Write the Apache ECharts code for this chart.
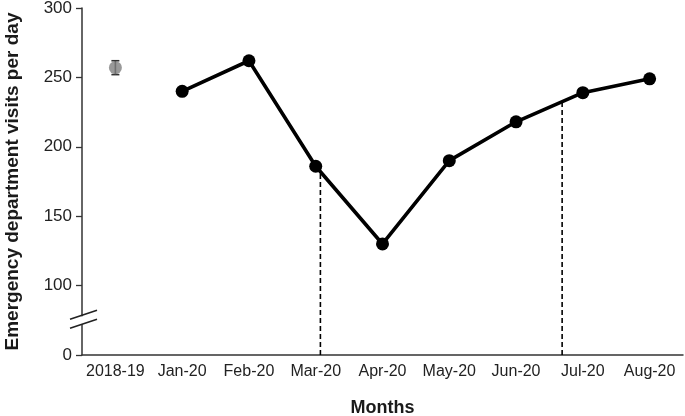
<!DOCTYPE html>
<html>
<head>
<meta charset="utf-8">
<script src="https://cdn.jsdelivr.net/npm/echarts@6/dist/echarts.min.js"></script>
<style>
  html, body { margin: 0; padding: 0; background: #fff; }
  #dom { width: 685px; height: 416px; }
</style>
</head>
<body>
<div id="dom"></div>
<script>
const months = ['2018-19', 'Jan-20', 'Feb-20', 'Mar-20', 'Apr-20', 'May-20', 'Jun-20', 'Jul-20', 'Aug-20']
// monthly averages for 2020 (first slot is the 2018-19 baseline, drawn separately)
const visits = ['-', 240, 262, 186, 130, 190, 218, 239, 249]
const baseline = 257
const baselineErr = [252, 262]
// y axis is broken: bottom tick shows 0 but sits where 50 would be
const yTickValues = [50, 100, 150, 200, 250, 300]
const yTickLabels = ['0', '100', '150', '200', '250', '300']
// dashed markers (x as fractional month index, y where they meet the line)
const dashX = [3.07, 6.69]
const dashTop = [182, 232]

const font = 'Liberation Sans, Arial, sans-serif'
const dom = echarts.init(document.getElementById('dom'))

let option = {
  backgroundColor: '#FFFFFF',
  animation: false,
  grid: { left: 82, right: 2, top: 8, bottom: 61, outerBoundsMode: 'none' },
  xAxis: [
    {
      type: 'category',
      data: months,
      name: 'Months',
      nameLocation: 'middle',
      nameGap: 44,
      nameTextStyle: { fontFamily: font, fontSize: 18, fontWeight: 'bold', color: '#1a1a1a' },
      axisLine: { lineStyle: { color: '#333', width: 1.5 } },
      axisTick: { alignWithLabel: true, length: 5, lineStyle: { color: '#333', width: 1.3 } },
      axisLabel: { fontFamily: font, fontSize: 16, color: '#222', margin: 9, interval: 0 }
    },
    { type: 'value', min: -0.5, max: 8.5, show: false }
  ],
  yAxis: {
    type: 'value',
    min: 50,
    max: 300,
    interval: 50,
    name: 'Emergency department visits per day',
    nameLocation: 'middle',
    nameGap: 60,
    nameTextStyle: { fontFamily: font, fontSize: 19, fontWeight: 'bold', color: '#1a1a1a' },
    axisLine: { show: true, onZero: false, lineStyle: { color: '#333', width: 1.5 } },
    axisTick: { show: true, inside: false, length: 6, lineStyle: { color: '#333', width: 1.3 } },
    axisLabel: {
      fontFamily: font, fontSize: 17, color: '#222', margin: 10,
      formatter: v => yTickLabels[yTickValues.indexOf(v)]
    },
    splitLine: { show: false }
  },
  series: []
}

dashX.forEach((x, i) => {
  option.series.push({
    type: 'line',
    xAxisIndex: 1,
    data: [[x, 50], [x, dashTop[i]]],
    symbol: 'none',
    z: 1,
    lineStyle: { color: '#000', width: 1.6, type: [5, 3] }
  })
})

option.series.push({
  name: 'visits',
  type: 'line',
  data: visits,
  symbol: 'circle',
  symbolSize: 13,
  z: 3,
  itemStyle: { color: '#000' },
  lineStyle: { color: '#000', width: 3.6 }
})

option.series.push({
  type: 'custom',
  z: 2,
  data: [[0, baselineErr[0], baselineErr[1]]],
  renderItem: (params, api) => {
    const lo = api.coord([api.value(0), api.value(1)])
    const hi = api.coord([api.value(0), api.value(2)])
    const w = 4
    const st = { stroke: '#333', lineWidth: 1.6 }
    return {
      type: 'group',
      children: [
        { type: 'line', shape: { x1: lo[0], y1: lo[1], x2: hi[0], y2: hi[1] }, style: st },
        { type: 'line', shape: { x1: lo[0] - w, y1: lo[1], x2: lo[0] + w, y2: lo[1] }, style: st },
        { type: 'line', shape: { x1: hi[0] - w, y1: hi[1], x2: hi[0] + w, y2: hi[1] }, style: st }
      ]
    }
  }
})

option.series.push({
  type: 'scatter',
  data: [[0, baseline]],
  symbol: 'circle',
  symbolSize: 13,
  z: 4,
  itemStyle: { color: '#808080' }
})

dom.setOption(option)

// axis break marks (//) drawn on the y axis line
const ax = dom.convertToPixel({ xAxisIndex: 1 }, -0.5)
const yMid = dom.convertToPixel({ yAxisIndex: 0 }, 75)
const brk = { stroke: '#222', lineWidth: 1.5 }
dom.setOption({
  graphic: [
    { type: 'rect', shape: { x: ax - 3, y: yMid - 4, width: 6, height: 8 }, style: { fill: '#fff' }, z: 10 },
    { type: 'line', shape: { x1: ax - 12, y1: yMid - 1, x2: ax + 15, y2: yMid - 10 }, style: brk, z: 11 },
    { type: 'line', shape: { x1: ax - 12, y1: yMid + 8, x2: ax + 15, y2: yMid - 1 }, style: brk, z: 11 }
  ]
})
</script>
</body>
</html>
